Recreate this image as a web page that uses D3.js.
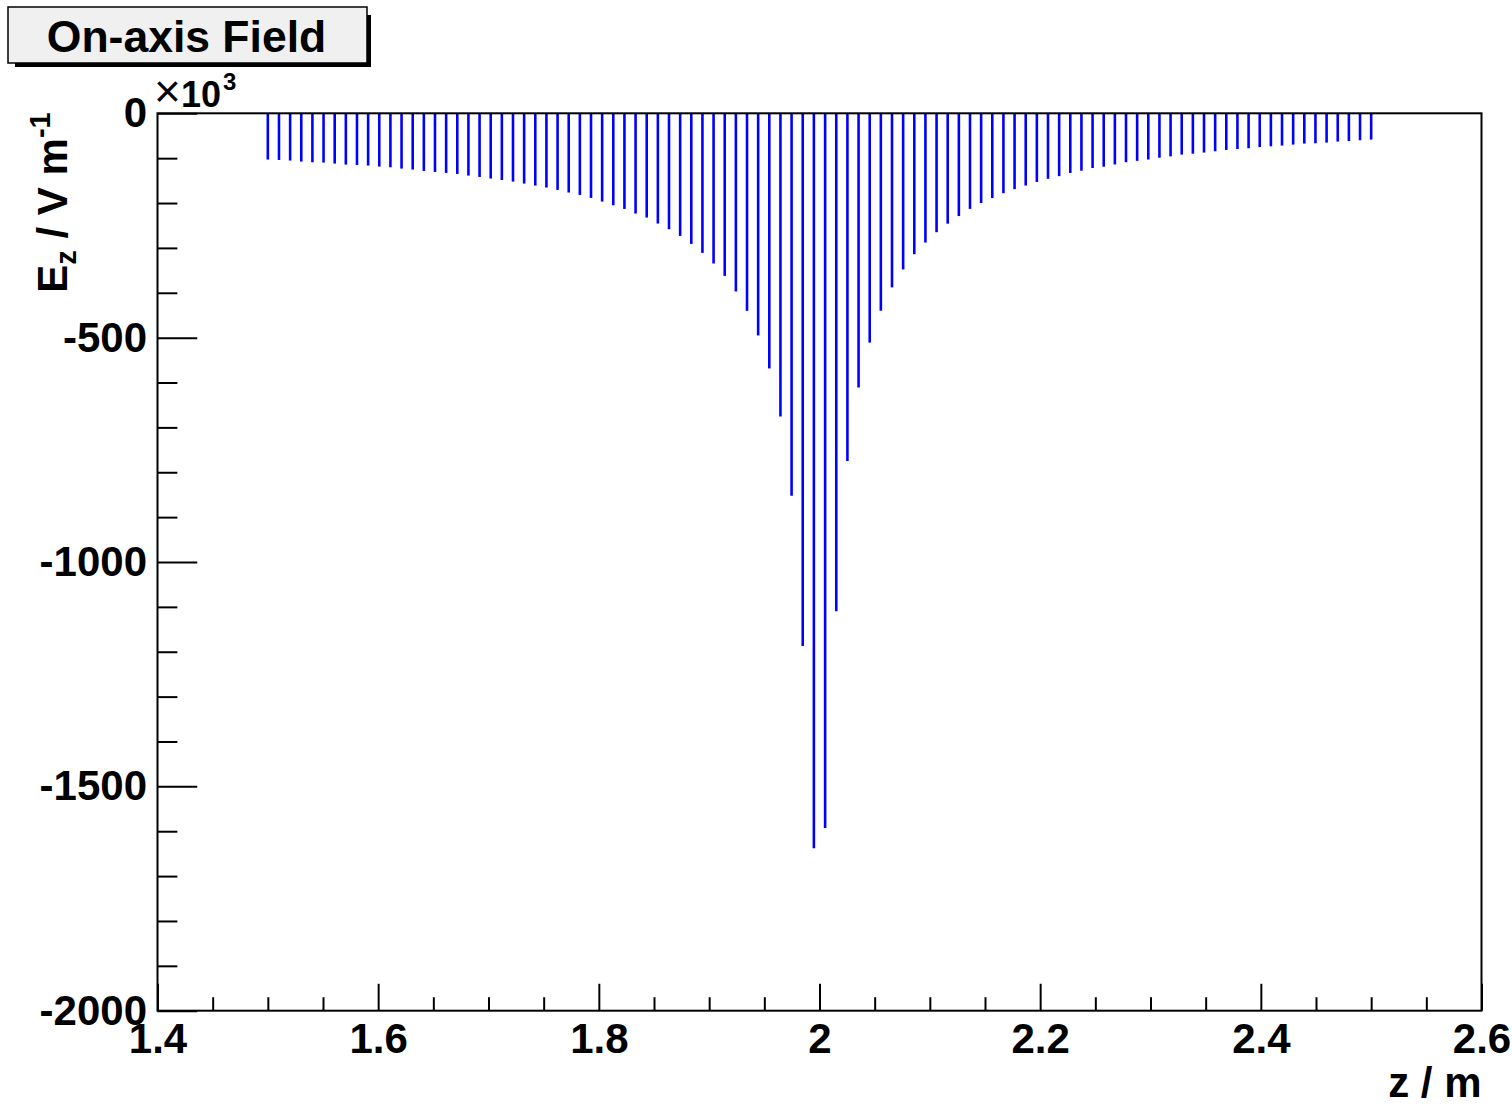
<!DOCTYPE html>
<html>
<head>
<meta charset="utf-8">
<script src="https://cdn.jsdelivr.net/npm/d3@7"></script>
<style>
  html, body { margin: 0; padding: 0; background: #fff; }
  svg { display: block; }
  text { font-family: "Liberation Sans", Arial, Helvetica, sans-serif; }
</style>
</head>
<body>
<svg id="chart" width="1512" height="1104"></svg>
<script>
// Axial position of each field sample (m)
const zPositions = [
  1.5000, 1.5101, 1.5202, 1.5303, 1.5404, 1.5505, 1.5606, 1.5707, 1.5808, 1.5909,
  1.6010, 1.6111, 1.6212, 1.6313, 1.6414, 1.6515, 1.6616, 1.6717, 1.6818, 1.6919,
  1.7020, 1.7121, 1.7222, 1.7323, 1.7424, 1.7525, 1.7626, 1.7727, 1.7828, 1.7929,
  1.8030, 1.8131, 1.8232, 1.8333, 1.8434, 1.8535, 1.8636, 1.8737, 1.8838, 1.8939,
  1.9040, 1.9141, 1.9242, 1.9343, 1.9444, 1.9545, 1.9646, 1.9747, 1.9848, 1.9949,
  2.0051, 2.0152, 2.0253, 2.0354, 2.0455, 2.0556, 2.0657, 2.0758, 2.0859, 2.0960,
  2.1061, 2.1162, 2.1263, 2.1364, 2.1465, 2.1566, 2.1667, 2.1768, 2.1869, 2.1970,
  2.2071, 2.2172, 2.2273, 2.2374, 2.2475, 2.2576, 2.2677, 2.2778, 2.2879, 2.2980,
  2.3081, 2.3182, 2.3283, 2.3384, 2.3485, 2.3586, 2.3687, 2.3788, 2.3889, 2.3990,
  2.4091, 2.4192, 2.4293, 2.4394, 2.4495, 2.4596, 2.4697, 2.4798, 2.4899, 2.5000
];

// On-axis longitudinal field Ez at each position (x10^3 V/m)
const ezValues = [
  -103.1, -104.0, -105.3, -107.6, -109.1, -109.8, -112.0, -114.3, -115.1, -116.5,
  -118.7, -120.3, -123.2, -125.4, -128.5, -130.7, -132.9, -135.2, -138.8, -141.9,
  -145.4, -148.6, -152.2, -156.6, -161.0, -165.5, -170.8, -176.6, -182.0, -188.6,
  -196.7, -204.9, -213.1, -223.4, -232.3, -245.7, -258.4, -273.3, -291.1, -311.1,
  -334.7, -362.4, -397.1, -440.3, -495.1, -568.6, -675.5, -852.3, -1187.0, -1638.0,
  -1593.0, -1110.0, -775.0, -611.0, -511.0, -440.0, -388.0, -348.0, -314.0, -288.0,
  -265.0, -246.0, -229.0, -213.0, -200.0, -189.0, -178.0, -169.0, -161.0, -153.0,
  -146.0, -140.0, -133.0, -128.0, -122.0, -119.0, -114.0, -109.0, -106.0, -103.0,
  -99.0, -96.0, -92.0, -90.0, -87.5, -84.6, -81.7, -79.5, -77.9, -75.1,
  -73.5, -71.9, -69.7, -67.5, -66.8, -65.3, -63.0, -61.7, -60.1, -58.6
];

// Axis ticks
const xMajorTicks = [1.4, 1.6, 1.8, 2.0, 2.2, 2.4, 2.6];
const xTickLabels = ["1.4", "1.6", "1.8", "2", "2.2", "2.4", "2.6"];
const xMinorTicks = [1.45, 1.5, 1.55, 1.65, 1.7, 1.75, 1.85, 1.9, 1.95, 2.05, 2.1, 2.15,
                     2.25, 2.3, 2.35, 2.45, 2.5, 2.55];
const yMajorTicks = [0, -500, -1000, -1500, -2000];
const yTickLabels = ["0", "-500", "-1000", "-1500", "-2000"];
const yMinorTicks = [-100, -200, -300, -400, -600, -700, -800, -900, -1100, -1200, -1300,
                     -1400, -1600, -1700, -1800, -1900];

const xDomain = [1.4, 2.6];
const yDomain = [-2000, 0];

const titleText = "On-axis Field";

const svg = d3.select("#chart");
const plot = { left: 157.5, right: 1481.5, top: 113.3, bottom: 1010.7 };

const x = d3.scaleLinear().domain(xDomain).range([plot.left, plot.right]);
const y = d3.scaleLinear().domain(yDomain).range([plot.bottom, plot.top]);

const plotW = plot.right - plot.left;
const plotH = plot.bottom - plot.top;
const labelFont = 42;

// Field spikes from zero down to each sample value
const pts = zPositions.map((z, i) => ({ z, v: ezValues[i] }));
svg.append("g")
  .selectAll("line")
  .data(pts)
  .join("line")
  .attr("x1", d => x(d.z))
  .attr("x2", d => x(d.z))
  .attr("y1", y(0))
  .attr("y2", d => y(d.v))
  .attr("stroke", "#0000ff")
  .attr("stroke-width", 2.6);

// X axis: major and minor ticks pointing into the frame
const xMajLen = 0.03 * plotH;
const xAxisMajor = d3.axisBottom(x)
  .tickValues(xMajorTicks)
  .tickFormat((d, i) => xTickLabels[i])
  .tickSizeInner(-xMajLen)
  .tickSizeOuter(0)
  .tickPadding(12);
const gx = svg.append("g")
  .attr("transform", `translate(0,${plot.bottom})`)
  .call(xAxisMajor);
gx.select(".domain").remove();
gx.selectAll(".tick line").attr("stroke", "#000").attr("stroke-width", 2);
gx.selectAll(".tick text")
  .attr("fill", "#000")
  .attr("font-size", labelFont)
  .attr("font-weight", "bold")
  .attr("font-family", "Liberation Sans, Arial, sans-serif");

const gxMinor = svg.append("g")
  .attr("transform", `translate(0,${plot.bottom})`)
  .call(d3.axisBottom(x).tickValues(xMinorTicks).tickFormat("")
    .tickSizeInner(-xMajLen / 2).tickSizeOuter(0));
gxMinor.select(".domain").remove();
gxMinor.selectAll(".tick line").attr("stroke", "#000").attr("stroke-width", 2);

// Y axis
const yMajLen = 0.03 * plotW;
const yAxisMajor = d3.axisLeft(y)
  .tickValues(yMajorTicks)
  .tickFormat((d, i) => yTickLabels[i])
  .tickSizeInner(-yMajLen)
  .tickSizeOuter(0)
  .tickPadding(10.5);
const gy = svg.append("g")
  .attr("transform", `translate(${plot.left},0)`)
  .call(yAxisMajor);
gy.select(".domain").remove();
gy.selectAll(".tick line").attr("stroke", "#000").attr("stroke-width", 2);
gy.selectAll(".tick text")
  .attr("fill", "#000")
  .attr("font-size", labelFont)
  .attr("font-weight", "bold")
  .attr("font-family", "Liberation Sans, Arial, sans-serif");

const gyMinor = svg.append("g")
  .attr("transform", `translate(${plot.left},0)`)
  .call(d3.axisLeft(y).tickValues(yMinorTicks).tickFormat("")
    .tickSizeInner(-yMajLen / 2).tickSizeOuter(0));
gyMinor.select(".domain").remove();
gyMinor.selectAll(".tick line").attr("stroke", "#000").attr("stroke-width", 2);

// Frame
svg.append("rect")
  .attr("x", plot.left).attr("y", plot.top)
  .attr("width", plotW).attr("height", plotH)
  .attr("fill", "none").attr("stroke", "#000").attr("stroke-width", 2);

// Exponent label
const expo = svg.append("text")
  .attr("x", 154).attr("y", 106.7)
  .attr("fill", "#000");
expo.append("tspan").attr("font-size", 46).text("\u00d7");
expo.append("tspan").attr("font-size", 36).attr("font-weight", "bold").text("10");
expo.append("tspan").attr("font-size", 24).attr("font-weight", "bold")
  .attr("dy", -17).attr("dx", 2).text("3");

// X axis title
svg.append("text")
  .attr("x", plot.right).attr("y", 1097)
  .attr("text-anchor", "end")
  .attr("font-size", labelFont).attr("font-weight", "bold")
  .attr("fill", "#000")
  .text("z / m");

// Y axis title
const yTitle = svg.append("text")
  .attr("transform", `translate(67,${plot.top - 1}) rotate(-90)`)
  .attr("text-anchor", "end")
  .attr("font-size", labelFont).attr("font-weight", "bold")
  .attr("fill", "#000");
yTitle.append("tspan").text("E");
yTitle.append("tspan").attr("font-size", 29).attr("dy", 9).text("z");
yTitle.append("tspan").attr("dy", -9).text(" / V m");
yTitle.append("tspan").attr("font-size", 29).attr("dy", -17).text("-1");

// Title box with drop shadow
const box = { x: 8, y: 7, w: 359, h: 56 };
const sh = 4;
svg.append("path")
  .attr("d", `M${box.x + 7},${box.y + box.h} H${box.x + box.w + sh} V${box.y + 8} H${box.x + box.w} V${box.y + box.h} Z
              M${box.x + 7},${box.y + box.h} V${box.y + box.h + sh} H${box.x + box.w + sh} V${box.y + box.h} Z`)
  .attr("fill", "#000");
svg.append("rect")
  .attr("x", box.x).attr("y", box.y)
  .attr("width", box.w).attr("height", box.h)
  .attr("fill", "#f0f0f0").attr("stroke", "#000").attr("stroke-width", 1.5);
svg.append("text")
  .attr("x", 186.5).attr("y", 52)
  .attr("text-anchor", "middle")
  .attr("font-size", 44.5).attr("font-weight", "bold")
  .attr("fill", "#000")
  .text(titleText);
</script>
</body>
</html>
